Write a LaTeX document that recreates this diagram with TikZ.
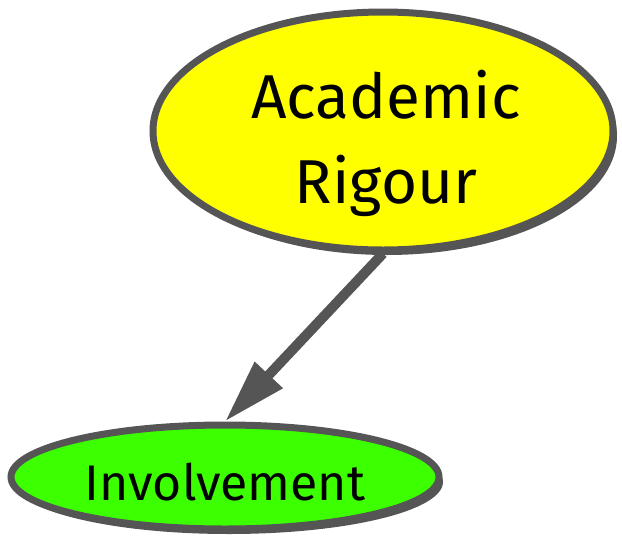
\documentclass[tikz,border=0pt]{standalone}
\usepackage{fontspec}
\setmainfont{Fira Sans}
\usetikzlibrary{arrows.meta,shapes.geometric,shadows}
\definecolor{edgegray}{HTML}{555555}
\definecolor{ryellow}{HTML}{FFFF00}
\definecolor{rgreen}{HTML}{3CFF00}
\tikzset{
  bubble/.style={ellipse, draw=edgegray, line width=7pt, inner sep=0pt,
    drop shadow={shadow xshift=4pt, shadow yshift=-5pt, fill=edgegray, opacity=1}},
  lbl/.style={anchor=base, inner sep=0pt, text=black},
  link/.style={draw=edgegray, line width=10pt, -{Triangle[length=64pt,width=36pt]}}
}
\begin{document}
\begin{tikzpicture}[x=1pt,y=-1pt]
\useasboundingbox (0,0) rectangle (622,542);
\node[bubble, fill=ryellow, minimum width=460pt, minimum height=238pt] (ar) at (383,131) {};
\node[bubble, fill=rgreen, minimum width=428pt, minimum height=104pt] (inv) at (225,477) {};
\node[lbl, font=\fontsize{62}{62}\selectfont] (arA) at (386,118) {Academic};
\node[lbl, font=\fontsize{62}{62}\selectfont] (arR) at (386,203) {Rigour};
\node[lbl, font=\fontsize{50}{50}\selectfont] (invT) at (225,500) {Involvement};
\draw[link] (ar.south) -- (inv.north);
\end{tikzpicture}
\end{document}
